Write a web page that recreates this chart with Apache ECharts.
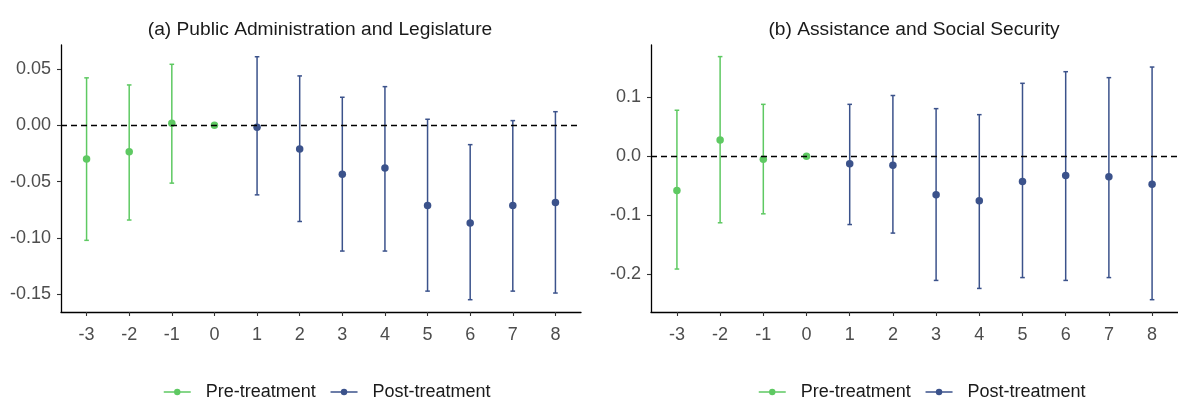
<!DOCTYPE html>
<html>
<head>
<meta charset="utf-8">
<script src="https://cdn.jsdelivr.net/npm/echarts@6/dist/echarts.min.js"></script>
<style>html,body{margin:0;padding:0;background:#fff}#chart{width:1178px;height:399px}</style>
</head>
<body>
<div id="chart"></div>
<script>
// ---- data ----
const xTicks = [-3,-2,-1,0,1,2,3,4,5,6,7,8];
const preX = [-3,-2,-1,0];
const postX = [1,2,3,4,5,6,7,8];

// (a) Public Administration and Legislature
const aPreEst = [-0.030,-0.0236,0.0018,0];
const aPreLo  = [-0.102,-0.084,-0.0513,0];
const aPreHi  = [0.042,0.0357,0.054,0];
const aPostEst = [-0.0018,-0.021,-0.0434,-0.038,-0.0711,-0.0867,-0.0711,-0.0685];
const aPostLo  = [-0.0617,-0.0853,-0.1115,-0.1115,-0.147,-0.1546,-0.147,-0.1487];
const aPostHi  = [0.0607,0.0437,0.0248,0.0342,0.0053,-0.0172,0.0041,0.012];
const aYTicks = [-0.15,-0.10,-0.05,0.00,0.05];

// (b) Assistance and Social Security
const bPreEst = [-0.0583,0.0276,-0.005,0];
const bPreLo  = [-0.1915,-0.113,-0.0978,0];
const bPreHi  = [0.078,0.169,0.088,0];
const bPostEst = [-0.013,-0.0153,-0.0656,-0.0758,-0.043,-0.0328,-0.035,-0.0475];
const bPostLo  = [-0.116,-0.1305,-0.2108,-0.2244,-0.206,-0.2108,-0.206,-0.2435];
const bPostHi  = [0.088,0.103,0.0807,0.0705,0.1237,0.1434,0.1333,0.1513];
const bYTicks = [-0.2,-0.1,0.0,0.1];

const titles = ['(a) Public Administration and Legislature','(b) Assistance and Social Security'];
const seriesNames = ['Pre-treatment','Post-treatment'];

// ---- style ----
const GREEN = '#5ec962', BLUE = '#3b528b';
const FONT = '"Liberation Sans", Arial, sans-serif';

const chart = echarts.init(document.getElementById('chart'), null, {renderer:'canvas'});

function errSeries(idx, xs, lo, hi, color){
  return {
    type:'custom', xAxisIndex: idx, yAxisIndex: idx, silent:true,
    itemStyle:{color: color},
    data: xs.map((x,i)=>[x, lo[i], hi[i]]),
    renderItem(params, api){
      const x = api.value(0), l = api.value(1), h = api.value(2);
      if (l === h) return null;
      const pl = api.coord([x,l]), ph = api.coord([x,h]);
      const hw = 2.3;
      const st = {stroke: color, lineWidth: 1.5};
      return {type:'group', children:[
        {type:'line', shape:{x1:ph[0],y1:ph[1],x2:pl[0],y2:pl[1]}, style:st},
        {type:'line', shape:{x1:ph[0]-hw,y1:ph[1],x2:ph[0]+hw,y2:ph[1]}, style:st},
        {type:'line', shape:{x1:pl[0]-hw,y1:pl[1],x2:pl[0]+hw,y2:pl[1]}, style:st}
      ]};
    },
    z: 2
  };
}
function ptSeries(idx, name, xs, est, color){
  return {
    type:'line', name: name, xAxisIndex: idx, yAxisIndex: idx, silent:true,
    data: xs.map((x,i)=>[x, est[i]]),
    symbol:'circle', symbolSize:7.5, showSymbol:true,
    itemStyle:{color: color},
    lineStyle:{opacity:0, width:0, color: color},
    z: 3
  };
}
function zeroLine(idx){
  return {
    type:'line', xAxisIndex: idx, yAxisIndex: idx, data: [], silent:true,
    markLine:{silent:true, symbol:'none', label:{show:false},
      lineStyle:{color:'#000', type:[6,4], width:1.3},
      data:[{yAxis:0}]},
    z: 1
  };
}

const grids = [
  {left:61, top:45, width:520, height:267},
  {left:651, top:45, width:530, height:267}
];
const yRanges = [[-0.1655,0.0711],[-0.2644,0.1887]];
const yTicks = [aYTicks, bYTicks];
const yDec = [2,1];

const xAxes = grids.map((g,i)=>({
  type:'value', gridIndex:i, min:-3.6, max:8.6,
  axisLine:{onZero:false, lineStyle:{color:'#000', width:1.3}},
  axisTick:{customValues:xTicks, length:4, lineStyle:{color:'#333', width:1.1}},
  axisLabel:{customValues:xTicks, color:'#4d4d4d', fontSize:18, fontFamily:FONT, margin:14,
             formatter:v=>String(v)},
  splitLine:{show:false}
}));
const yAxes = grids.map((g,i)=>({
  type:'value', gridIndex:i, min:yRanges[i][0], max:yRanges[i][1],
  axisLine:{show:true, onZero:false, lineStyle:{color:'#000', width:1.3}},
  axisTick:{show:true, customValues:yTicks[i], length:4, lineStyle:{color:'#333', width:1.1}},
  axisLabel:{customValues:yTicks[i], color:'#4d4d4d', fontSize:18, fontFamily:FONT, margin:10,
             formatter:v=>v.toFixed(yDec[i])},
  splitLine:{show:false}
}));

const legendBase = {
  top:383, padding:0, itemWidth:27, itemHeight:8, itemGap:14,
  data: [{name:seriesNames[0]},{name:seriesNames[1]}],
  lineStyle:{width:1.5, opacity:1},
  textStyle:{fontSize:18, color:'#1a1a1a', fontFamily:FONT, padding:[0,0,0,10]},
  selectedMode:false
};

const option = {
  animation:false,
  backgroundColor:'#fff',
  title: [
    {text:titles[0], left:315, top:15, textAlign:'center',
     textStyle:{fontSize:19.2, fontWeight:'normal', color:'#1a1a1a', fontFamily:FONT}},
    {text:titles[1], left:909, top:15, textAlign:'center',
     textStyle:{fontSize:19.2, fontWeight:'normal', color:'#1a1a1a', fontFamily:FONT}}
  ],
  grid: grids,
  xAxis: xAxes,
  yAxis: yAxes,
  legend: [
    Object.assign({}, legendBase, {left:163}),
    Object.assign({}, legendBase, {left:758})
  ],
  series: [
    zeroLine(0), zeroLine(1),
    errSeries(0, preX, aPreLo, aPreHi, GREEN),
    errSeries(0, postX, aPostLo, aPostHi, BLUE),
    ptSeries(0, seriesNames[0], preX, aPreEst, GREEN),
    ptSeries(0, seriesNames[1], postX, aPostEst, BLUE),
    errSeries(1, preX, bPreLo, bPreHi, GREEN),
    errSeries(1, postX, bPostLo, bPostHi, BLUE),
    ptSeries(1, seriesNames[0], preX, bPreEst, GREEN),
    ptSeries(1, seriesNames[1], postX, bPostEst, BLUE)
  ]
};
chart.setOption(option);
</script>
</body>
</html>
